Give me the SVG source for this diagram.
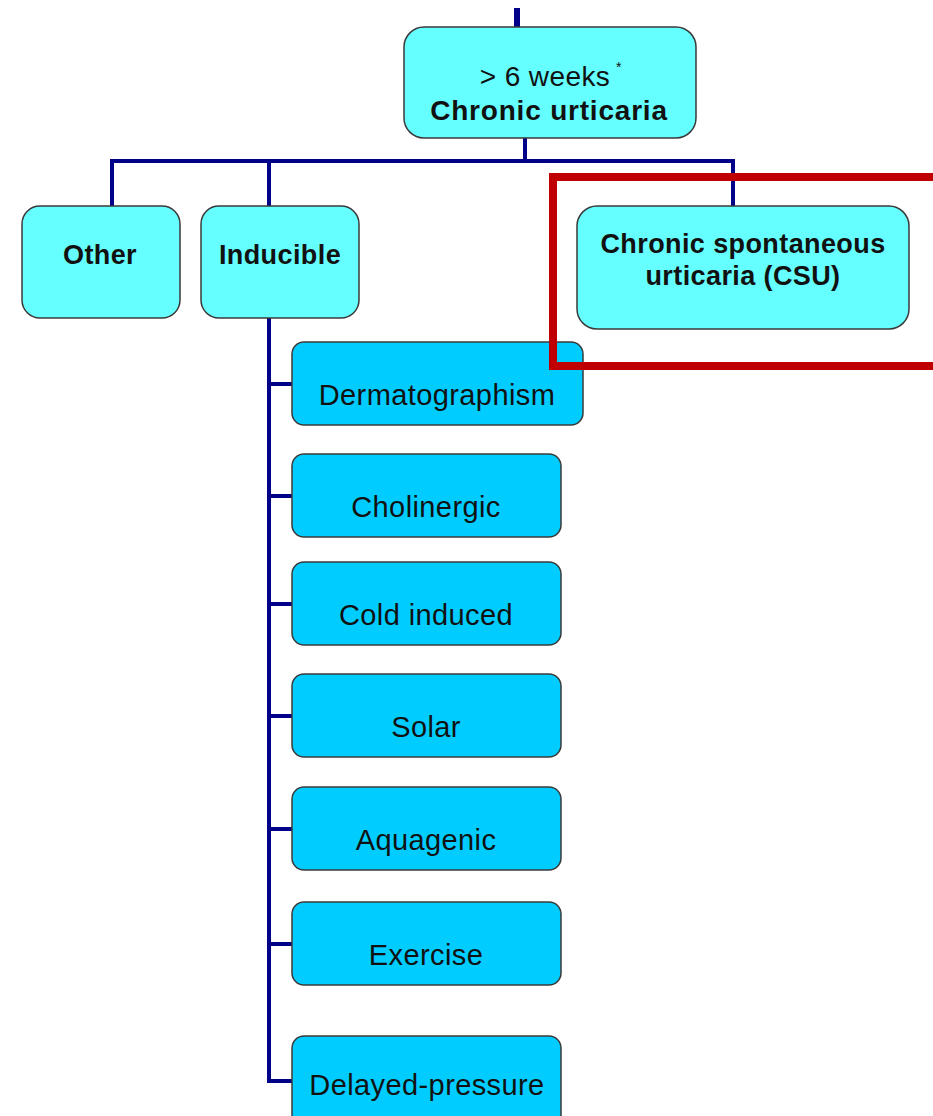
<svg xmlns="http://www.w3.org/2000/svg" width="933" height="1116" viewBox="0 0 933 1116">
<style>
.top{fill:#66FFFF;stroke:#3a3a3a;stroke-width:1.5}
.sub{fill:#00CCFF;stroke:#3a3a3a;stroke-width:1.5}
.c{fill:none;stroke:#000088;stroke-width:4}
.tb{font-family:"Liberation Sans",Arial,sans-serif;font-weight:bold;font-size:27px;letter-spacing:0.4px;fill:#111;text-anchor:middle}
.tn{font-family:"Liberation Sans",Arial,sans-serif;font-size:29px;letter-spacing:0.4px;fill:#111;text-anchor:middle}
</style>
<rect width="933" height="1116" fill="#fff"/>
<g id="connectors">
<line class="c" x1="517" y1="8" x2="517" y2="28" style="stroke-width:6"/>
<line class="c" x1="525" y1="138" x2="525" y2="161"/>
<path class="c" d="M112,207 V161 H733 V208"/>
<line class="c" x1="269" y1="161" x2="269" y2="207"/>
<path class="c" d="M269,318 V1081 H293"/>
<line class="c" x1="269" y1="384" x2="293" y2="384"/>
<line class="c" x1="269" y1="496" x2="293" y2="496"/>
<line class="c" x1="269" y1="604" x2="293" y2="604"/>
<line class="c" x1="269" y1="716" x2="293" y2="716"/>
<line class="c" x1="269" y1="829" x2="293" y2="829"/>
<line class="c" x1="269" y1="944" x2="293" y2="944"/>
</g>
<g id="n-chronic">
<rect class="top" x="404" y="27" width="292" height="111" rx="20"/>
<text class="tn" x="545" y="86" style="font-size:28px">&gt; 6 weeks</text>
<text class="tn" x="619" y="72" style="font-size:14px">*</text>
<text class="tb" x="549" y="120" style="font-size:28px;letter-spacing:0.8px">Chronic urticaria</text>
</g>
<g id="n-other">
<rect class="top" x="22" y="206" width="158" height="112" rx="18"/>
<text class="tb" x="100" y="264">Other</text>
</g>
<g id="n-inducible">
<rect class="top" x="201" y="206" width="158" height="112" rx="18"/>
<text class="tb" x="280" y="264">Inducible</text>
</g>
<g id="n-csu">
<rect class="top" x="577" y="206" width="332" height="123" rx="20"/>
<text class="tb" x="743" y="253">Chronic spontaneous</text>
<text class="tb" x="743" y="285">urticaria (CSU)</text>
</g>
<g id="n-dermato">
<rect class="sub" x="292" y="342" width="291" height="83" rx="12"/>
<text class="tn" x="437" y="405">Dermatographism</text>
</g>
<g id="n-cholinergic">
<rect class="sub" x="292" y="454" width="269" height="83" rx="12"/>
<text class="tn" x="426" y="517">Cholinergic</text>
</g>
<g id="n-cold">
<rect class="sub" x="292" y="562" width="269" height="83" rx="12"/>
<text class="tn" x="426" y="625">Cold induced</text>
</g>
<g id="n-solar">
<rect class="sub" x="292" y="674" width="269" height="83" rx="12"/>
<text class="tn" x="426" y="737">Solar</text>
</g>
<g id="n-aquagenic">
<rect class="sub" x="292" y="787" width="269" height="83" rx="12"/>
<text class="tn" x="426" y="850">Aquagenic</text>
</g>
<g id="n-exercise">
<rect class="sub" x="292" y="902" width="269" height="83" rx="12"/>
<text class="tn" x="426" y="965">Exercise</text>
</g>
<g id="n-delayed">
<rect class="sub" x="292" y="1036" width="269" height="100" rx="12"/>
<text class="tn" x="427" y="1095">Delayed-pressure</text>
</g>
<rect id="highlight" x="553" y="177" width="400" height="189" fill="none" stroke="#C00000" stroke-width="8"/>
</svg>
